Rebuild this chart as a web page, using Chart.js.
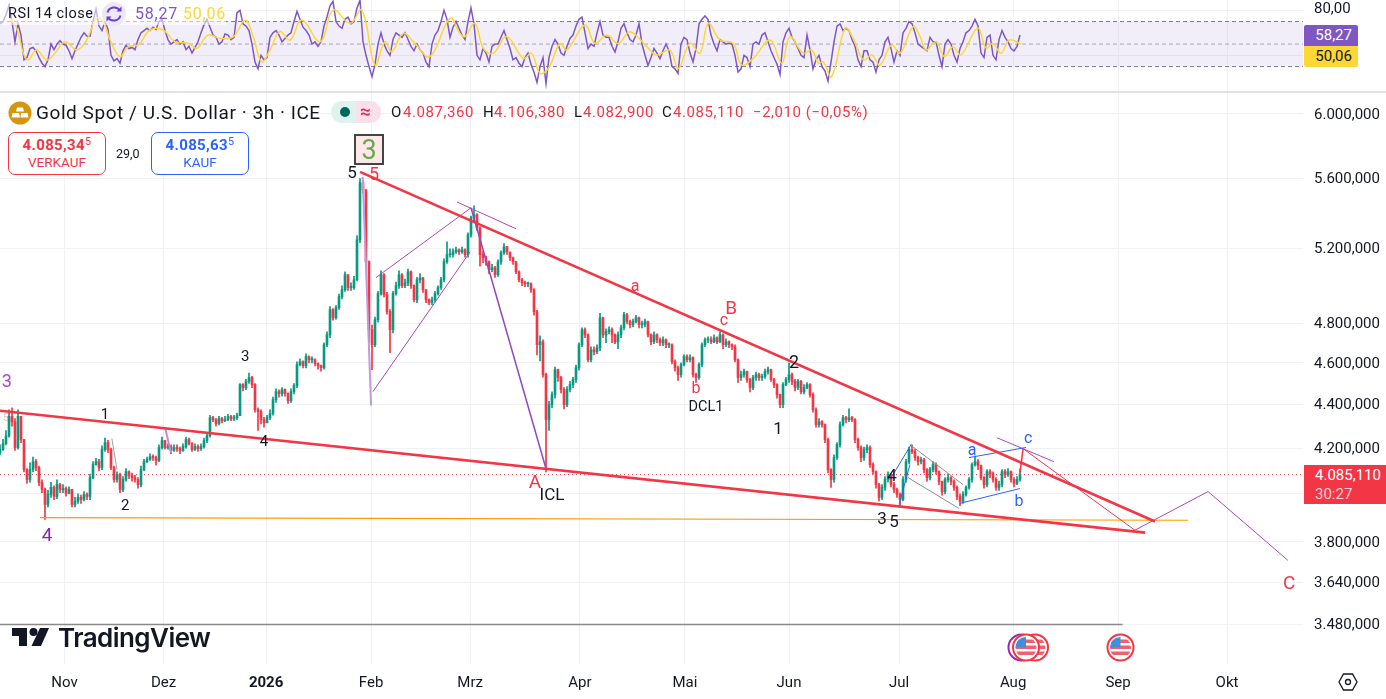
<!DOCTYPE html>
<html lang="de">
<head>
<meta charset="utf-8">
<title>Gold Spot / U.S. Dollar</title>
<script src="https://cdn.jsdelivr.net/npm/chart.js@4/dist/chart.umd.min.js"></script>
<style>
html,body{margin:0;padding:0;background:#fff;overflow:hidden}
#wrap{position:relative;width:1386px;height:699px;font-family:Roboto,sans-serif;color:#131722}
canvas{position:absolute;left:0;top:0}
.t{position:absolute;white-space:nowrap;line-height:1}
.o{font-size:15px;letter-spacing:.55px;top:105px}
.r{color:#f23645}.pill{position:absolute;box-sizing:border-box;text-align:center}
sup{font-size:.72em;line-height:0;vertical-align:.42em;font-weight:400}
svg{position:absolute;overflow:visible}
</style>
</head>
<body>
<div id="wrap">
<canvas id="c" width="1386" height="699"></canvas>
<div style="position:absolute;left:0;top:91px;width:1386px;height:1.5px;background:#e0e3eb"></div>
<div style="position:absolute;left:0;top:5px;width:226px;height:20px;background:rgba(255,255,255,.55)"></div>
<div class="t" style="left:8px;top:7px;font-size:14.5px;letter-spacing:.5px">RSI 14 close</div>
<svg style="left:102px;top:2px" width="24" height="24" viewBox="0 0 24 24"><circle cx="12" cy="12" r="12" fill="#ede7f6"/><path d="M5.5 10.5A7 7 0 0 1 18 8.5M18.5 13.5A7 7 0 0 1 6 15.5" fill="none" stroke="#6a3fd4" stroke-width="2"/><path d="M19.5 4.5v5h-5zM4.5 19.5v-5h5z" fill="#6a3fd4"/></svg>
<div class="t" style="left:135px;top:6px;font-size:16px;letter-spacing:.8px;color:#7e57c2">58,27</div>
<div class="t" style="left:183px;top:6px;font-size:16px;letter-spacing:.8px;color:#fdd835">50,06</div>

<svg style="left:8px;top:101px" width="24" height="24" viewBox="0 0 24 24"><circle cx="12" cy="12" r="11.5" fill="#d4960e"/><path d="M9 6.5h6l1 4H8zM4.5 12h6.5l1 4.5H3.5zM13 12h6.5l1 4.5h-8z" fill="#fff"/></svg>
<div class="t" style="left:36px;top:103px;font-size:19px;letter-spacing:.55px">Gold Spot / U.S. Dollar · 3h · ICE</div>
<div style="position:absolute;left:331px;top:101px;width:25px;height:22px;background:#dff3ee;border-radius:11px 0 0 11px"></div>
<div style="position:absolute;left:356px;top:101px;width:25px;height:22px;background:#fce0e9;border-radius:0 11px 11px 0"></div>
<div style="position:absolute;left:340px;top:107px;width:10px;height:10px;background:#00695c;border-radius:50%"></div>
<div class="t" style="left:360px;top:102px;font-size:19px;color:#e0245e;font-weight:500">≈</div>
<div class="t o" style="left:391px">O</div>
<div class="t r o" style="left:403px">4.087,360</div>
<div class="t o" style="left:483px">H</div>
<div class="t r o" style="left:494px">4.106,380</div>
<div class="t o" style="left:574px">L</div>
<div class="t r o" style="left:583px">4.082,900</div>
<div class="t o" style="left:662px">C</div>
<div class="t r o" style="left:673px">4.085,110</div>
<div class="t r o" style="left:753px">−2,010 (−0,05%)</div>

<div class="pill" style="left:8px;top:132px;width:98px;height:43px;border:1px solid #f23645;border-radius:7px;color:#f23645;background:#fff">
<div style="font-size:15px;font-weight:700;margin-top:4px;line-height:17px;letter-spacing:.35px">4.085,34<sup>5</sup></div><div style="font-size:13.5px;line-height:16px">VERKAUF</div></div>
<div class="t" style="left:116px;top:148px;font-size:12.5px">29,0</div>
<div class="pill" style="left:151px;top:132px;width:98px;height:43px;border:1px solid #2962ff;border-radius:7px;color:#2962ff;background:#fff">
<div style="font-size:15px;font-weight:700;margin-top:4px;line-height:17px;letter-spacing:.35px">4.085,63<sup>5</sup></div><div style="font-size:13.5px;line-height:16px">KAUF</div></div>

<div class="pill" style="left:354px;top:134px;width:30px;height:31px;background:#fce8e6;border:2px solid #444;line-height:28px;font-size:27px;color:#6aa84f">3</div>

<div class="pill" style="left:1304px;top:25px;width:54px;height:21px;background:#7e57c2;color:#fff;font-size:15px;line-height:21px;border-radius:2px 2px 0 0;text-align:right;padding-right:6px">58,27</div>
<div class="pill" style="left:1304px;top:46px;width:54px;height:21px;background:#fdd835;color:#131722;font-size:15px;line-height:21px;border-radius:0 0 2px 2px;text-align:right;padding-right:6px">50,06</div>
<div class="pill" style="left:1304px;top:465px;width:82px;height:39px;background:#f23645;color:#fff;font-size:15px;line-height:19px;padding-top:1px;text-align:left;padding-left:11px">4.085,110<br><span style="color:#fbd0d4">30:27</span></div>

<svg style="left:0;top:0" width="250" height="660">
<path d="M12 628h15v18h-8v-10h-7zM40 628h9l-8 18h-9.500z" fill="#131722"/><circle cx="33.500" cy="632" r="4" fill="#131722"/>
</svg>
<div class="t" style="left:58px;top:625px;font-size:26px;font-family:Inter,sans-serif;font-weight:600;letter-spacing:-.55px;color:#131722">TradingView</div>

<svg style="left:0;top:0" width="1386" height="699">
<defs><clipPath id="fc"><circle r="10.500"/></clipPath>
<g id="flag"><circle r="13" fill="#fff" stroke="#f23645" stroke-width="2"/><g clip-path="url(#fc)"><rect x="-11" y="-11" width="22" height="22" fill="#fff"/><rect x="-11" y="-2" width="22" height="3.500" fill="#f0616d"/><rect x="-11" y="4" width="22" height="3.500" fill="#f0616d"/><rect x="-11" y="-8" width="22" height="3.500" fill="#f0616d"/><rect x="-11" y="-11" width="11" height="11" fill="#3f8fe0"/></g></g></defs>
<circle cx="1021.500" cy="647.500" r="13" fill="#fff" stroke="#9c27b0" stroke-width="2"/>
<use href="#flag" x="1035" y="647.500"/><use href="#flag" x="1026" y="647.500"/><use href="#flag" x="1120.500" y="647.500"/>
<path d="M1339 682l4.500-8h9l4.500 8-4.500 8h-9z" fill="none" stroke="#131722" stroke-width="1.300"/><circle cx="1348" cy="682" r="2.500" fill="none" stroke="#131722" stroke-width="1.300"/>
</svg>
</div>
<script>
// ---------- Candles: one bar per slot of the horizontal scale ----------
const closes=[4194,4220,4255,4345,4320,4203,4345,4239,4105,4062,
4105,4140,4114,4049,4019,3955,3998,4028,3989,4040,
4019,4023,4002,4019,3955,3968,3985,3976,3998,3989,
4070,4127,4140,4114,4194,4225,4194,4114,4062,4084,
4019,4062,4096,4079,4070,4062,4040,4105,4140,4149,
4162,4158,4145,4203,4234,4203,4207,4190,4203,4198,
4190,4207,4239,4220,4194,4207,4198,4207,4234,4256,
4339,4330,4312,4335,4325,4330,4344,4335,4339,4348,
4495,4480,4510,4529,4495,4376,4367,4330,4316,4339,
4358,4423,4461,4452,4471,4452,4418,4461,4490,4592,
4606,4587,4631,4616,4616,4597,4587,4577,4690,4740,
4869,4827,4879,4937,4974,5054,4985,4985,5027,5246,
5575,5533,5125,4766,4690,4817,4953,5054,4948,4859,
4766,4953,4995,5054,4995,5011,5070,4995,4921,5027,
5037,4974,4921,4906,4921,4953,4985,5027,5125,5163,
5163,5179,5190,5179,5190,5163,5274,5370,5388,5313,
5163,5146,5125,5081,5092,5054,5125,5174,5207,5179,
5146,5125,5070,5027,5011,5006,5006,4974,4858,4690,
4705,4543,4330,4400,4447,4567,4529,4471,4400,4471,
4495,4519,4577,4690,4766,4740,4616,4665,4655,4675,
4827,4740,4756,4766,4740,4705,4740,4776,4843,4807,
4792,4807,4827,4792,4792,4807,4740,4705,4740,4715,
4700,4715,4690,4690,4606,4577,4543,4592,4631,4616,
4626,4543,4529,4592,4690,4715,4715,4705,4725,4705,
4740,4690,4705,4690,4680,4616,4529,4543,4558,4519,
4481,4529,4543,4529,4534,4558,4567,4519,4495,4447,
4400,4495,4519,4543,4510,4481,4510,4461,4481,4495,
4447,4376,4307,4320,4307,4239,4105,4062,4158,4216,
4307,4339,4330,4339,4330,4239,4203,4158,4194,4203,
4127,4096,4040,3985,4028,4062,4084,4040,4019,3998,
3976,4062,4140,4194,4185,4158,4140,4149,4105,4070,
4105,4127,4096,4053,4010,4062,4070,4053,4028,3989,
3968,3998,4028,4062,4127,4140,4123,4070,4040,4096,
4088,4062,4028,4040,4096,4084,4096,4062,4045,4062,
4085];
const highs=[4215,4240,4280,4375,4385,4335,4375,4345,4240,4110,
4135,4160,4150,4120,4060,4025,4015,4050,4035,4060,
4045,4040,4030,4030,4020,3985,4000,3995,4010,4005,
4085,4140,4155,4150,4210,4245,4235,4200,4120,4095,
4090,4075,4110,4100,4090,4080,4070,4120,4150,4160,
4175,4170,4165,4215,4250,4235,4220,4215,4215,4215,
4205,4220,4250,4245,4225,4220,4215,4220,4245,4270,
4350,4345,4335,4345,4340,4345,4355,4350,4350,4360,
4500,4500,4520,4550,4535,4500,4385,4375,4340,4350,
4375,4435,4475,4470,4480,4475,4455,4475,4500,4605,
4620,4610,4645,4635,4630,4620,4600,4590,4700,4755,
4885,4875,4890,4950,4995,5070,5055,5010,5045,5270,
5600,5590,5535,5130,4790,4830,4965,5075,5060,4960,
4870,4965,5015,5075,5060,5030,5085,5075,5000,5040,
5060,5040,4975,4925,4935,4965,4995,5040,5140,5235,
5195,5195,5205,5195,5205,5195,5285,5380,5440,5395,
5320,5180,5155,5130,5110,5100,5135,5185,5225,5210,
5165,5150,5125,5075,5035,5020,5015,5010,4980,4865,
4735,4715,4550,4415,4460,4580,4570,4535,4480,4485,
4510,4530,4590,4700,4775,4775,4745,4680,4680,4690,
4850,4830,4770,4780,4775,4745,4755,4790,4855,4850,
4815,4820,4840,4830,4810,4820,4810,4745,4755,4745,
4725,4730,4720,4700,4695,4615,4585,4600,4640,4640,
4640,4630,4550,4600,4700,4725,4730,4730,4740,4730,
4755,4745,4720,4710,4695,4690,4620,4560,4570,4560,
4525,4540,4555,4550,4545,4570,4580,4570,4525,4500,
4450,4505,4530,4600,4550,4520,4520,4515,4495,4505,
4500,4455,4385,4335,4325,4310,4245,4110,4170,4225,
4320,4350,4345,4380,4345,4335,4245,4210,4205,4215,
4210,4135,4100,4045,4040,4075,4095,4085,4050,4025,
4005,4075,4150,4205,4215,4195,4165,4160,4155,4110,
4115,4140,4135,4100,4055,4070,4085,4075,4060,4035,
4000,4010,4035,4070,4135,4165,4150,4125,4075,4105,
4105,4095,4070,4055,4105,4105,4110,4100,4070,4075,
4106];
const lows=[4170,4190,4215,4250,4300,4190,4195,4225,4095,4045,
4050,4095,4100,4035,4005,3892,3945,3985,3975,3980,
4005,4005,3990,4000,3945,3945,3960,3960,3970,3975,
3975,4065,4125,4100,4105,4185,4180,4105,4050,4050,
4005,4010,4055,4065,4055,4050,4025,4030,4100,4135,
4145,4145,4125,4140,4195,4195,4195,4175,4185,4185,
4175,4185,4200,4215,4185,4190,4185,4190,4200,4225,
4250,4320,4300,4305,4315,4320,4325,4325,4325,4330,
4350,4465,4470,4500,4480,4365,4280,4310,4295,4315,
4330,4350,4410,4435,4440,4440,4405,4410,4450,4480,
4585,4575,4575,4600,4600,4585,4570,4560,4570,4680,
4725,4815,4820,4870,4925,4965,4970,4970,4975,5020,
5230,5515,5100,4700,4567,4680,4805,4945,4935,4845,
4650,4750,4945,4980,4985,4985,4995,4980,4910,4905,
5010,4960,4905,4895,4895,4910,4945,4975,5015,5115,
5150,5150,5170,5165,5170,5150,5150,5260,5350,5300,
5100,5120,5105,5060,5070,5040,5045,5110,5165,5165,
5130,5110,5060,5015,4995,4990,4990,4960,4840,4640,
4610,4530,4095,4280,4385,4430,4510,4455,4380,4390,
4460,4480,4505,4565,4680,4725,4605,4605,4640,4645,
4660,4725,4700,4745,4700,4695,4670,4725,4765,4795,
4775,4780,4800,4775,4775,4780,4730,4690,4695,4700,
4685,4685,4675,4675,4595,4560,4515,4530,4585,4605,
4605,4530,4505,4520,4580,4680,4700,4695,4700,4695,
4700,4670,4680,4675,4665,4605,4505,4515,4530,4505,
4460,4470,4515,4515,4515,4525,4545,4510,4480,4430,
4385,4385,4490,4505,4495,4465,4470,4450,4450,4475,
4435,4365,4295,4295,4295,4225,4090,4028,4050,4150,
4205,4300,4315,4320,4320,4225,4190,4140,4145,4180,
4115,4085,4025,3970,3975,4015,4050,4030,4005,3985,
3945,3970,4050,4130,4175,4145,4125,4130,4090,4055,
4060,4095,4085,4040,3995,4000,4050,4040,4015,3975,
3950,3960,3990,4020,4050,4120,4105,4060,4025,4030,
4070,4050,4015,4015,4030,4070,4075,4050,4030,4040,
4055];
const firstOpen=4180;

// ---------- RSI pane ----------
const rsi=[68,70,76,84,70,52,68,58,36,38,46,47,44,38,33,30,36,50,45,50,53,50,49,44,37,44,50,56,60,57,57,70,81,66,62,70,63,40,35,37,33,44,49,46,47,45,54,60,62,64,62,65,63,70,72,62,54,50,52,54,50,52,45,48,42,47,52,60,67,72,65,58,56,50,52,59,58,54,56,78,80,68,66,62,50,34,28,40,36,38,56,60,62,58,52,55,58,60,70,79,72,65,62,58,50,52,48,52,66,74,84,88,70,66,64,72,74,68,70,82,89,52,40,30,21,32,50,60,50,44,40,54,60,58,56,60,54,48,44,50,45,42,34,30,50,58,62,70,80,72,56,65,70,64,
58,54,70,82,68,40,36,46,42,34,48,50,50,56,62,54,46,36,38,33,30,38,42,32,25,16,30,38,15,38,48,54,50,42,40,48,55,58,66,72,74,60,46,50,48,60,70,58,56,56,48,43,52,64,68,60,54,52,58,68,50,40,31,38,46,42,37,44,50,44,30,28,24,50,56,54,42,34,46,68,72,75,72,58,50,44,54,52,50,51,50,40,25,28,40,38,30,50,52,50,58,60,52,44,38,32,23,52,60,64,56,52,46,40,38,58,45,28,36,40,30,26,17,34,52,66,68,62,64,62,54,48,36,30,44,44,36,34,25,36,40,52,56,46,34,44,40,60,64,70,68,60,50,
48,46,44,56,52,52,40,30,50,54,50,40,34,46,52,60,62,66,72,66,42,38,56,58,40,36,54,62,56,52,46,44,48,58];
const rsiMaBars=[3.3,5.6,7.8,9.4,12.2,15.6,18.3,21.7,25.6,28.9,32.2,34.4,36.7,40,42.8,46.1,50,54.4,58.3,62.8,65.6,69.4,73.3,77.8,81.7,84.4,87.2,90,93.3,96.7,100.6,106.7,111.1,116.7,120.6,125,128.3,130.6,134.4,138.3,143.3,150,153.3,155,158.3,161.1,164.4,168.9,174.4,177.2,180,182.8,186.7,188.9,195,198.3,202.2,206.1,210,215.6,218.9,223.3,226.1,230,233.3,236.1,240,244.4,247.2,251.1,256.7,260.6,263.3,267.8,270.6,272.8,274.4,277.2,281.7,284.4,287.8,290.6,293.3,297.2,300,304.4,306.7,308.7,312,314.8,317.6,320.3,325.9,328.7,330.9,333.7,336.4,340.3];
const rsiMa=[72.9,64,41.8,35.8,44.7,35.8,41.8,52.1,44.7,53.6,72.9,69.9,53.6,38.8,47.7,49.2,62.5,62.5,52.1,50.6,46.2,58,55,56.6,71.4,56.6,34.3,44.7,61,53.6,71.4,52.1,80.3,68.4,80.3,31.4,52.1,43.2,59.5,50.6,38.8,72.9,59.5,56.6,68.4,46.2,41.8,56.6,37.3,41.8,24,28.4,50.6,44.7,66.9,50.6,58,50.6,61,47.7,40.3,44.7,28.4,50.6,41.8,68.4,53.6,50.6,31.4,37.3,53.6,32.9,56.6,41.8,44.7,32.9,34.3,21,64,55,35.8,40.3,31.4,49.2,41.8,65.5,56.6,44.7,52.1,38.8,47.7,40.3,64,46.2,50.6,41.8,53.6,50.06];
const rsiLevelBars=[0,434.4];
const rsiUpper=[70,70], rsiMiddle=[50,50], rsiLower=[30,30];

// ---------- Axis labels ----------
const priceTicks=[6000,5600,5200,4800,4600,4400,4200,4000,3800,3640,3480];
const rsiTicks=[80,40];
const monthNames=["Nov","Dez","2026","Feb","Mrz","Apr","Mai","Jun","Jul","Aug","Sep","Okt"];
const monthBars=[21.5,54.5,88.7,123.7,156.7,193.3,228.3,263,299.7,337.7,372.7,409];

// ---------- Drawings on the price pane ----------
const lastPriceBars=[0,434.4], lastPrice=[4083,4083];
const upperTrendBars=[120,385], upperTrend=[5640,3884];
const lowerTrendBars=[0,381.7], lowerTrend=[4371,3838];
const supportBars=[13.3,396], support=[3900,3889];
const baseRuleBars=[0,374.2], baseRule=[3480,3480];
const dropBars=[120.9,123.7], drop=[5610,4395];
const wedgeLowBars=[124.3,156.7], wedgeLow=[4461,5179];
const wedgeHighBars=[125.3,157], wedgeHigh=[5038,5428];
const topCapBars=[152.3,172], topCap=[5462,5308];
const legABars=[157,182], legA=[5428,4109];
const miniPurpleBars=[55,57], miniPurple=[4294,4180];
const miniGreyBars=[37.3,39], miniGrey=[4243,4105];
const blueImpulseABars=[296.7,303.7], blueImpulseA=[4062,4216];
const blueImpulseBBars=[299.7,303.3], blueImpulseB=[3955,4127];
const channelHighBars=[303.3,321], channelHigh=[4216,4040];
const channelLowBars=[302.7,319.7], channelLow=[4070,3938];
const blueLowBars=[320,340], blueLow=[3960,4023];
const blueHighBars=[323,342], blueHigh=[4158,4203];
const riseCBars=[340,341], riseC=[4092,4198];
const fallCBars=[341,378.3], fallC=[4198,3848];
const capCBars=[332.3,351.3], capC=[4247,4140];
const forecastBars=[378.3,402.7,429.3], forecast=[3848,4010,3726];

const waveTexts=["3","5","1","2","3","4","4","5","5","a","B","c","b","DCL1","1","2","A","ICL","3","5","4","a","c","b","C"];
const waveBars=[2.3,2,35,41.7,81.7,88,15.7,117.3,124.7,211.7,243.7,241.3,232,235.3,259.3,264.7,178.3,184,294,298,297.3,324,342.7,339.7,429.7];
const wavePrices=[4504,4335,4352,3947,4626,4225,3825,5628,5621,4990,4870,4812,4475,4385,4284,4596,4044,3990,3892,3880,4075,4189,4243,3964,3632];
const waveColors=["#ab47bc","rgba(242,54,69,.35)","#131722","#131722","#131722","#131722","#8e24aa","#131722","#f23645","#f23645","#f23645","#f23645","#f23645","#131722","#131722","#131722","#f23645","#131722","#131722","#131722","#131722","#2962ff","#2962ff","#2962ff","#f23645"];
const waveSizes=[18,11,15,15,15,15,19,17,18,16,19,16,16,14.5,17,18,19,17,17,17,17,16,16,16,19];

// ---------- Build ----------
const green="#089981", red="#f23645";
const opens=closes.map((_,i)=>i?closes[i-1]:firstOpen);
const candleColors=closes.map((c,i)=>c>=opens[i]?green:red);
const pairs=(xs,ys)=>xs.map((x,i)=>({x,y:ys[i]}));
const line=(xs,ys,color,width,extra={})=>Object.assign({type:"line",data:pairs(xs,ys),yAxisID:"yPrice",borderColor:color,borderWidth:width,pointRadius:0,tension:0,fill:false,order:1},extra);
const rsiLine=(xs,ys,color,width,extra={})=>line(xs,ys,color,width,Object.assign({yAxisID:"yRsi"},extra));
const purple="#ab47bc", blue="#2962ff", grey="#8a8d96";

const datasets=[
 line(upperTrendBars,upperTrend,"#f23645",2.6),
 line(lowerTrendBars,lowerTrend,"#f23645",2.6),
 line(fallCBars,fallC,"#f23645",1),
 line(riseCBars,riseC,"#f23645",1.5),
 line(forecastBars,forecast,purple,1),
 line(supportBars,support,"#ff9800",1.2),
 line(baseRuleBars,baseRule,"#8a8a8a",1.5),
 line(dropBars,drop,"#c39ad8",2),
 line(wedgeLowBars,wedgeLow,purple,1),
 line(wedgeHighBars,wedgeHigh,purple,1),
 line(topCapBars,topCap,purple,1),
 line(legABars,legA,"#8f49bb",1.5),
 line(miniPurpleBars,miniPurple,"#c48ad8",2),
 line(miniGreyBars,miniGrey,"#a0a0a0",1),
 line(blueImpulseABars,blueImpulseA,blue,1),
 line(blueImpulseBBars,blueImpulseB,blue,1),
 line(channelHighBars,channelHigh,grey,1),
 line(channelLowBars,channelLow,grey,1),
 line(blueLowBars,blueLow,blue,1),
 line(blueHighBars,blueHigh,blue,1),
 line(capCBars,capC,purple,1),
 line(lastPriceBars,lastPrice,"#f23645",1,{borderDash:[1,3],order:30}),
 {type:"bar",data:closes.map((c,i)=>({x:i,y:[opens[i],c]})),yAxisID:"yPrice",backgroundColor:candleColors,barThickness:2,minBarLength:1,grouped:false,order:10},
 {type:"bar",data:closes.map((c,i)=>({x:i,y:[lows[i],highs[i]]})),yAxisID:"yPrice",backgroundColor:candleColors,barThickness:1,grouped:false,order:11},
 rsiLine(rsiMaBars,rsiMa,"#fdd835",1.5,{tension:.4,order:2}),
 rsiLine(closes.map((_,i)=>i),rsi,"#7e57c2",1.5,{order:3}),
 rsiLine(rsiLevelBars,rsiUpper,"#787b86",1,{borderDash:[4,3],fill:{target:{value:30}},backgroundColor:"rgba(126,87,194,.1)",order:20}),
 rsiLine(rsiLevelBars,rsiMiddle,"#a8aab3",1,{borderDash:[4,3],order:20}),
 rsiLine(rsiLevelBars,rsiLower,"#787b86",1,{borderDash:[4,3],order:20})
];

const waveLabels={id:"waveLabels",afterDatasetsDraw(chart){
 const {ctx,scales}=chart;ctx.save();ctx.textAlign="center";ctx.textBaseline="middle";
 waveTexts.forEach((t,i)=>{ctx.fillStyle=waveColors[i];ctx.font=waveSizes[i]+"px Roboto, sans-serif";
  ctx.fillText(t,scales.x.getPixelForValue(waveBars[i]),scales.yPrice.getPixelForValue(wavePrices[i]));});
 ctx.restore();}};

const gridColor="#f0f1f5";
const tickFont={family:"Roboto, sans-serif",size:15};
const noPad=s=>{s.width=83;s.paddingTop=0;s.paddingBottom=0};
new Chart(document.getElementById("c"),{
 type:"bar",
 data:{datasets},
 plugins:[waveLabels],
 options:{
  responsive:false,animation:false,events:[],
  layout:{padding:0},
  plugins:{legend:{display:false},tooltip:{enabled:false}},
  scales:{
   x:{type:"linear",min:0,max:434.33,offset:false,
      afterBuildTicks:s=>{s.ticks=monthBars.map(v=>({value:v}))},
      afterFit:s=>{s.height=35;s.paddingLeft=0;s.paddingRight=0},
      grid:{color:gridColor,drawTicks:false,offset:false},border:{display:false},
      ticks:{autoSkip:false,maxRotation:0,padding:10,color:"#131722",
       callback:v=>monthNames[monthBars.indexOf(v)],
       font:c=>({family:"Roboto, sans-serif",size:15,weight:monthNames[c.index]==="2026"?"700":"400"})}},
   yRsi:{type:"linear",position:"right",stack:"panes",stackWeight:92,weight:1,min:7.4,max:89.16,
      afterBuildTicks:s=>{s.ticks=rsiTicks.map(v=>({value:v}))},
      afterFit:noPad,
      grid:{color:gridColor,drawTicks:false},border:{display:false},
      ticks:{autoSkip:false,padding:11,labelOffset:-1,color:"#131722",font:tickFont,
       callback:v=>v.toLocaleString("de-DE",{minimumFractionDigits:2,maximumFractionDigits:2})}},
   yPrice:{type:"logarithmic",position:"right",stack:"panes",stackWeight:572,weight:2,min:3336,max:6142,
      afterBuildTicks:s=>{s.ticks=priceTicks.map(v=>({value:v}))},
      afterFit:noPad,
      grid:{color:gridColor,drawTicks:false},border:{display:false},
      ticks:{autoSkip:false,padding:11,labelOffset:1,color:"#131722",font:tickFont,
       callback:v=>v.toLocaleString("de-DE",{minimumFractionDigits:3,maximumFractionDigits:3})}}
  }
 }
});
</script>
</body>
</html>
